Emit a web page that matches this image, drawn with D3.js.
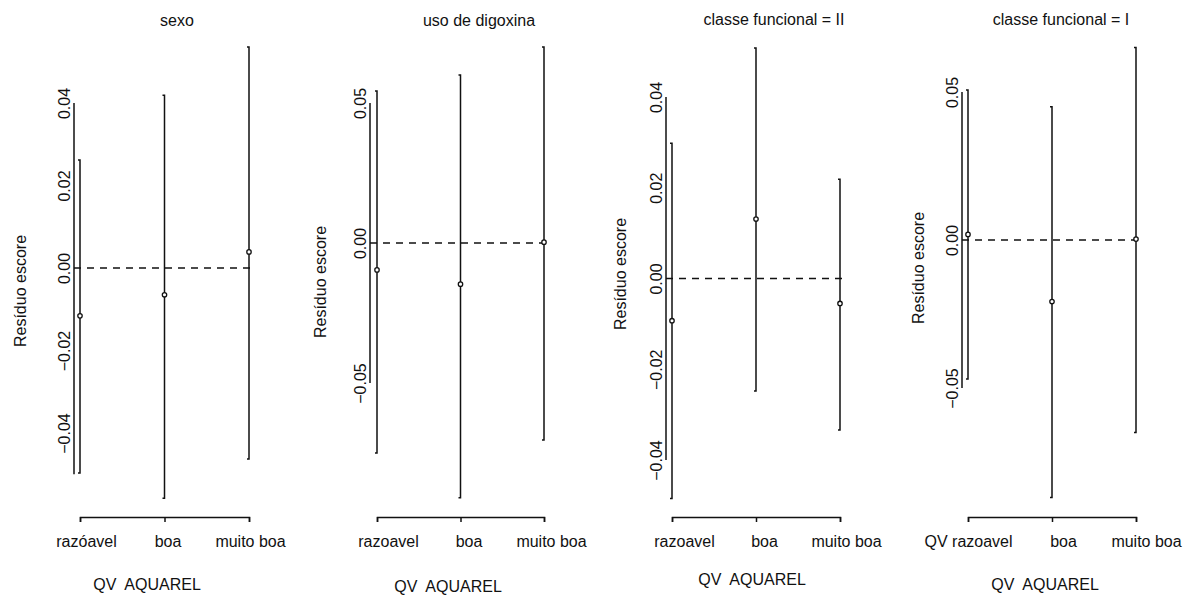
<!DOCTYPE html>
<html>
  <head>
    <meta charset="utf-8">
    <title>Resíduo escore por QV AQUAREL</title>
    <script src="https://d3js.org/d3.v7.min.js"></script>
    <style>
        body { margin: 0; background: #fff; }
        text {
        font-family: "Liberation Sans", Arial, sans-serif;
        font-size: 16px;
        fill: #111;
        }
        .bar, .axis-line {
        stroke: #111;
        stroke-width: 1.5px;
        fill: none;
        }
        .zero {
        stroke: #111;
        stroke-width: 1.3px;
        stroke-dasharray: 7,6;
        }
        .dot {
        fill: #fff;
        stroke: #111;
        stroke-width: 1.3px;
        }
        .x-axis path, .x-axis line {
        stroke: #111;
        stroke-width: 1.5px;
        }
    </style>
  </head>
  <body>
    <svg width="1191" height="597"></svg>
    <script>
        // panel titles and categories
        const titles = ["sexo", "uso de digoxina", "classe funcional = II", "classe funcional = I"];
        const categories = [
            ["razóavel", "boa", "muito boa"],
            ["razoavel", "boa", "muito boa"],
            ["razoavel", "boa", "muito boa"],
            ["QV razoavel", "boa", "muito boa"]
        ];

        // residuals and their intervals
        const estimates = [
            [-0.0116, -0.0065, 0.0039],
            [-0.0096, -0.0147, 0.0003],
            [-0.0093, 0.0131, -0.0055],
            [0.0019, -0.0208, 0.0003]
        ];
        const lowers = [
            [-0.0497, -0.0558, -0.0463],
            [-0.0750, -0.0910, -0.0704],
            [-0.0485, -0.0248, -0.0334],
            [-0.0470, -0.0870, -0.0650]
        ];
        const uppers = [
            [0.0262, 0.0419, 0.0536],
            [0.0543, 0.0600, 0.0700],
            [0.0298, 0.0508, 0.0219],
            [0.0507, 0.0450, 0.0650]
        ];

        // y tick labels and the extent of the y axis line
        const yTicks = [
            [-0.04, -0.02, 0, 0.02, 0.04],
            [-0.05, 0, 0.05],
            [-0.04, -0.02, 0, 0.02, 0.04],
            [-0.05, 0, 0.05]
        ];
        const axisExtent = [[-0.05, 0.04], [-0.05, 0.05], [-0.04, 0.04], [-0.05, 0.05]];

        const yTitle = "Resíduo escore";
        const xTitle = "QV  AQUAREL";

        // where each panel sits on the page
        const layout = [
            {axisX: 74,  xr: [80, 249],   yr: [433, 103], titleX: 177,  titleY: 26, ylabX: 26,  ylabY: 291, xlabX: 147,  xlabY: 590, shift: [6, 3, 1]},
            {axisX: 370, xr: [377, 544],  yr: [383, 103], titleX: 479,  titleY: 26, ylabX: 326, ylabY: 282, xlabX: 448,  xlabY: 592, shift: [11, 8, 7]},
            {axisX: 666, xr: [672, 840],  yr: [460, 97],  titleX: 774,  titleY: 25, ylabX: 626, ylabY: 274, xlabX: 752,  xlabY: 585, shift: [12, 8, 6]},
            {axisX: 962, xr: [968, 1136], yr: [388, 92],  titleX: 1061, titleY: 25, ylabX: 924, ylabY: 268, xlabX: 1045, xlabY: 590, shift: [0, 11, 10]}
        ];
        const axisY = 517;

        const svg = d3.select("svg");

        titles.forEach((title, i) => {
            const L = layout[i];
            const g = svg.append("g").attr("class", "panel");

            const x = d3.scalePoint()
                .domain(categories[i])
                .range(L.xr)
                .padding(0);

            const y = d3.scaleLinear()
                .domain(d3.extent(yTicks[i]))
                .range(L.yr);

            const rows = categories[i].map((c, j) => ({
                cat: c, est: estimates[i][j], lo: lowers[i][j], hi: uppers[i][j]
            }));

            // y axis: labels only, plus a plain line
            const yAxis = g.append("g")
                .attr("transform", `translate(${L.axisX},0)`)
                .call(d3.axisLeft(y).tickValues(yTicks[i]).tickSize(0).tickFormat(d3.format(".2f")));
            yAxis.select(".domain").remove();
            yAxis.selectAll("text")
                .attr("x", null)
                .attr("dy", null)
                .attr("fill", null)
                .attr("font-size", null)
                .attr("font-family", null)
                .attr("text-anchor", "middle")
                .attr("transform", "translate(-4,0) rotate(-90)");

            g.append("line")
                .attr("class", "axis-line")
                .attr("x1", L.axisX).attr("x2", L.axisX)
                .attr("y1", y(axisExtent[i][0]))
                .attr("y2", y(axisExtent[i][1]));

            // dashed zero line
            g.append("line")
                .attr("class", "zero")
                .attr("x1", L.axisX)
                .attr("x2", L.xr[1] + 6)
                .attr("y1", y(0)).attr("y2", y(0));

            // intervals
            g.selectAll(".bar")
                .data(rows)
                .enter().append("path")
                .attr("class", "bar")
                .attr("d", d => `M${x(d.cat) - 2},${y(d.hi)}H${x(d.cat)}V${y(d.lo)}H${x(d.cat) - 2}`);

            g.selectAll(".dot")
                .data(rows)
                .enter().append("circle")
                .attr("class", "dot")
                .attr("cx", d => x(d.cat))
                .attr("cy", d => y(d.est))
                .attr("r", 2.2);

            // x axis bracket
            const xAxis = g.append("g")
                .attr("class", "x-axis")
                .attr("transform", `translate(0,${axisY})`)
                .call(d3.axisBottom(x).tickSizeInner(5).tickSizeOuter(5).tickPadding(14));
            xAxis.selectAll("text")
                .attr("fill", null)
                .attr("font-size", null)
                .attr("font-family", null)
                .attr("dx", (d, j) => L.shift[j]);

            // titles
            g.append("text")
                .attr("x", L.titleX)
                .attr("y", L.titleY)
                .attr("text-anchor", "middle")
                .text(title);

            g.append("text")
                .attr("transform", `translate(${L.ylabX},${L.ylabY}) rotate(-90)`)
                .attr("text-anchor", "middle")
                .text(yTitle);

            g.append("text")
                .attr("x", L.xlabX)
                .attr("y", L.xlabY)
                .attr("text-anchor", "middle")
                .style("white-space", "pre")
                .text(xTitle);
        });
    </script>
  </body>
</html>
